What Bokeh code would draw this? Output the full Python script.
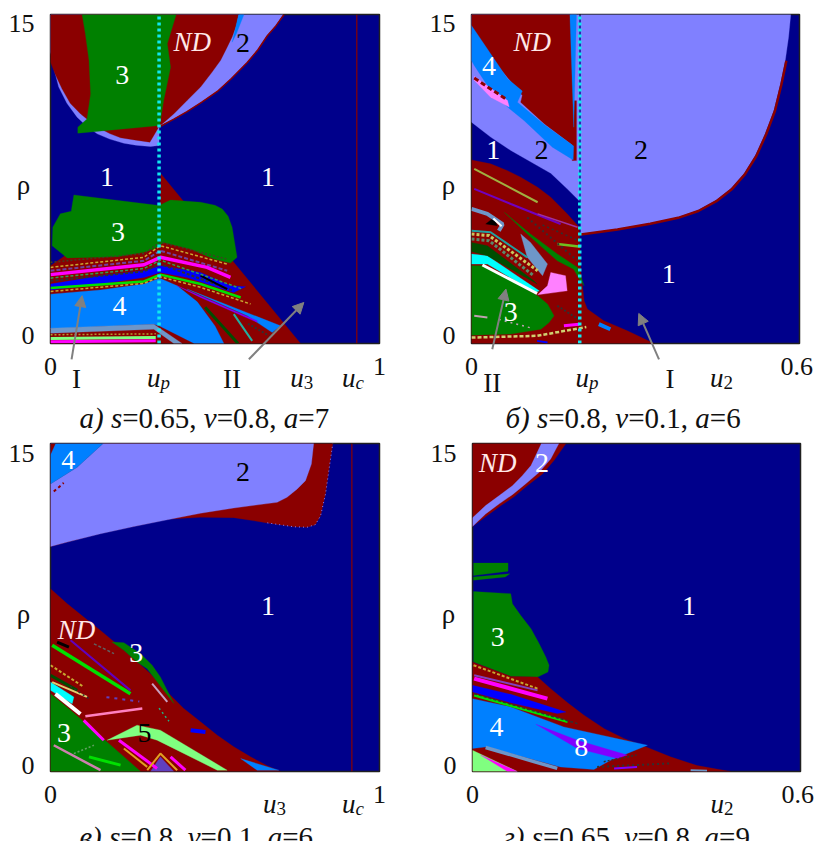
from bokeh.plotting import figure
from bokeh.layouts import row, column
from bokeh.models import Range1d, FixedTicker, Arrow, NormalHead
from bokeh.core.properties import value
from bokeh.embed import file_html
from bokeh.resources import INLINE

NAVY, RED, LILAC, GREEN, BLUE = "#00008b", "#8b0000", "#8080ff", "#008000", "#0080ff"
DGREEN, STEEL, PINK, MAG, LGREEN = "#004d00", "#6e96c8", "#ff80ff", "#ff00ff", "#80ff80"
VIOLET, CYAN, LIME, GOLD, PURE = "#8000ff", "#00ffff", "#00e000", "#c8a830", "#0000ff"
SERIF = "Liberation Serif"

# ---------- panel a: s=0.65, v=0.8, a=7 ----------
a_up, a_uc = 0.330, 0.931
a_region_u = [
    [0, .012, .025, .050, .081, .110, .142, .180, .223, .260, .304, .330, .330, .375, .415, .460, .507, .550, .598, .630, .659, .685, .707, 0],
    [0, .572, .565, .552, .535, .517, .490, .456, .415, .375, .350, .330, .302, .260, .213, .180, .152, .120, .091, .060, .035, .015, 0],
    [.572, .588, .565, .552],
    [.096, .382, .355, .365, .344, .332, .083, .083, .111, .122, .117, .106],
    [0, .066, .330, .336, .760, 0],
    [.071, .330, .365, .456, .500, .522, .540, .552, .567, .547, .496, .426, .344, .314, .284, .203, .051, .005, .007, .030, .063],
    [0, .152, .284, .334, .456, .547, .593, .557, .507, .415, .334, .284, .152, 0],
    [0, .152, .284, .332, .385, .446, .500, .527, .437, .330, .314, 0],
    [.415, .699, .674, .598],
    [.385, .628, .628, .583, .456],
    [0, .314, .400, .375, .314, 0],
]
a_region_rho = [
    [13.29, 12.45, 11.69, 10.95, 10.32, 9.90, 9.56, 9.32, 9.13, 9.04, 8.98, 9.03, 9.89, 10.25, 10.59, 11.02, 11.51, 12.10, 12.83, 13.40, 14.05, 14.50, 15, 15],
    [15, 15, 14.50, 13.97, 13.45, 12.91, 12.35, 11.69, 11.08, 10.47, 10.15, 9.89, 9.18, 9.27, 9.38, 9.57, 9.79, 10.12, 10.47, 10.95, 11.61, 12.25, 12.83],
    [15, 15, 14.12, 13.74],
    [15, 15, 13.67, 12.6, 11.08, 9.94, 9.59, 9.86, 10.24, 11.38, 12.91, 14.12],
    [3.55, 4.23, 4.38, 7.73, 0, 0],
    [6.77, 6.29, 6.54, 6.44, 6.30, 6.13, 5.80, 5.3, 3.93, 3.67, 3.85, 4.31, 4.61, 4.31, 4.16, 3.96, 3.9, 4.46, 5.3, 5.91, 6.03],
    [2.71, 3.09, 3.32, 3.55, 3.24, 2.63, 2.59, 2.33, 2.56, 3.01, 3.24, 3.01, 2.71, 2.44],
    [2.25, 2.44, 2.71, 2.98, 2.63, 1.9, .8, 0, 0, .81, .88, .67],
    [2.48, .81, .5, 1.26],
    [2.63, 1.04, .97, 1.26, 2.1],
    [.7, .88, 0, 0, .65, .47],
]
a_region_color = [LILAC, RED, BLUE, GREEN, RED, GREEN, PURE, BLUE, BLUE, VIOLET, STEEL]
a_line_u = [
    [.330, .375, .415, .460, .507, .550, .598, .630, .659, .685, .710],
    [0, .284, .334, .537], [0, .284, .334, .537], [0, .284, .334, .476, .547],
    [0, .284, .334, .556], [0, .284, .334, .456, .578], [0, .284, .332, .456, .608],
    [.557, .613], [.470, .570], [.456, .537], [0, .320], [0, .320], [0, .320],
    [0, .284, .334, .537], [0, .284, .334, .580], [.600, .665],
]
a_line_rho = [
    [9.87, 10.23, 10.57, 11.0, 11.49, 12.08, 12.81, 13.38, 14.03, 14.48, 15],
    [3.47, 3.93, 4.46, 3.62], [3.32, 3.77, 4.23, 3.32], [3.14, 3.59, 3.93, 3.47, 3.01],
    [2.86, 3.29, 3.62, 2.4], [2.53, 2.83, 3.14, 2.71, 2.1], [2.37, 2.74, 3.04, 2.56, 1.8],
    [1.34, .12], [1.65, 0], [3.09, 2.48], [.23, .27], [.08, .12], [.4, .44],
    [3.70, 4.10, 4.62, 3.85], [2.98, 3.42, 3.80, 2.5], [.9, .35],
]
a_line_color = [RED, GOLD, "#7040a0", MAG, "#303030", LIME, GOLD, "#20b0a0", DGREEN, "#000000", LGREEN, MAG, "#b0a030",
                "#404020", "#30a050", "#303030"]
a_line_width = [1.5, 1.5, 2, 3.5, 2, 2.5, 1.5, 2, 3, 2, 3, 3, 1.5, 1.5, 1.5, 2]
a_line_dash = ["solid", "3 2", "4 2", "solid", "3 2", "solid", "3 2", "solid", "solid", "solid", "solid", "solid", "2 2",
               "2 2", "3 2", "2 2"]
a_text_u = [.585, .218, .172, .661, .205, .210]
a_text_rho = [13.71, 12.22, 7.58, 7.58, 5.10, 1.72]
a_text = ["2", "3", "1", "1", "3", "4"]
a_text_color = ["black", "white", "white", "white", "white", "white"]
a_nd = (.431, 13.74)
a_arrow_u0, a_arrow_rho0, a_arrow_u1, a_arrow_rho1 = [.064, .603], [-.72, -.72], [.096, .770], [2.18, 1.87]

# ---------- panel b: s=0.8, v=0.1, a=6 ----------
b_up = 0.198
b_region_u = [
    [.200, .584, .580, .574, .565, .553, .537, .519, .498, .474, .446, .413, .376, .327, .267, .200],
    [0, 0, .035, .072, .145, .175, .197, .197, 0],
    [0, .181, .189, .187, .187, .133, .090, .093, .035, 0],
    [.184, .192, .192, .184],
    [0, .035, .066, .093, .084, .133, .187, .186, .148, .096, .066, .035, .005, 0],
    [.180, .192, .187],
    [.005, .066, .069, .035, .005],
    [0, .035, .066, .090, .121, .145, .175, .197, .200, .206, .212, .242, .285, .334, 0],
    [.060, .108, .157, .194, .206, .197, .187, .157, .102],
    [.090, .108, .139, .130, .102],
    [.145, .172, .175, .121, .139],
    [0, .023, .072, .121, .139, .151, .142, .127, .072, 0],
    [0, .029, .124, .117, .029, 0],
    [0, .029, .114, .120, .029, 0],
    [.026, .041, .047],
]
b_region_rho = [
    [15, 15, 13.97, 12.91, 11.84, 10.62, 9.56, 8.57, 7.73, 7.05, 6.51, 6.06, 5.75, 5.48, 5.22, 4.99],
    [12.98, 10.09, 9.41, 8.8, 7.76, 7.05, 6.51, 15, 15],
    [15, 15, 9.1, 8.34, 9.0, 10.02, 11.0, 11.31, 13.06, 14.12],
    [11.07, 11.07, 8.34, 8.34],
    [14.5, 13.21, 12.07, 11.51, 11.0, 9.98, 9.0, 8.37, 8.95, 10.17, 10.78, 11.54, 12.68, 12.9],
    [15, 15, 9.86],
    [12.18, 11.08, 10.78, 11.23, 12.0],
    [8.37, 8.19, 7.88, 7.58, 7.12, 6.67, 5.91, 5.3, 3.32, 1.95, 1.57, 1.04, .58, 0, 0],
    [5.98, 4.99, 4.08, 3.47, 2.63, 2.94, 3.39, 3.77, 4.99],
    [4.99, 4.61, 3.62, 3.09, 3.93],
    [3.24, 3.09, 2.4, 2.22, 2.63],
    [3.55, 3.55, 2.86, 2.18, 1.8, 1.26, .96, .65, .43, .38],
    [4.08, 4.0, 2.4, 2.33, 3.62, 3.62],
    [4.61, 4.46, 2.86, 2.71, 4.0, 4.2],
    [5.45, 5.75, 5.37],
]
b_region_color = [LILAC, LILAC, RED, RED, BLUE, BLUE, PINK, RED, GREEN, STEEL, PINK, GREEN, CYAN, DGREEN, "#000000"]
b_line_u = [
    [.200, .267, .327, .378, .415, .448, .476, .500, .521, .539, .555, .567, .576],
    [.005, .066], [.020, .120], [0, .032, .121], [0, .032, .114], [0, .035, .102],
    [0, .029, .057, .050], [.040, .055], [.005, .121], [.005, .072, .163], [.121, .194],
    [.157, .200], [.102, .194], [0, .120, .210], [.169, .197], [.233, .254],
    [.157, .200], [.120, .139], [.005, .029], [.130, .195], [.050, .110],
]
b_line_rho = [
    [4.97, 5.20, 5.46, 5.73, 6.04, 6.49, 7.03, 7.71, 8.55, 9.54, 10.60, 11.82, 12.89],
    [12.1, 11.1], [3.58, 2.28], [4.99, 4.92, 3.32], [4.76, 4.69, 3.09], [5.14, 5.07, 3.93],
    [6.14, 5.91, 5.44, 5.14], [5.7, 5.35], [7.96, 6.44], [7.05, 6.36, 5.45], [5.91, 5.3],
    [4.54, 4.41], [5.75, 3.77], [.27, .35, .75], [.81, .88], [.88, .65],
    [1.72, 1.03], [.12, .05], [1.26, 1.19], [5.4, 4.7], [1.1, .7],
]
b_line_color = [RED, RED, "white", "#c8c860", "#5a8a6a", "#20a0a0", STEEL, "white", "#a0b040", "#7000c0", "#a030a0",
                "#70c020", "#303030", "#d0d070", MAG, BLUE, "#303030", PURE, "#c0a0b0", "#303030", "#c0a0b0"]
b_line_width = [2.5, 3, 3, 3, 3, 2, 4, 2, 2, 2, 1.5, 2.5, 2, 2.5, 3, 4, 2, 2, 2, 1.5, 1.5]
b_line_dash = ["solid", "5 3", "solid", "3 2", "3 2", "solid", "solid", "solid", "solid", "solid", "solid",
               "solid", "2 3", "4 2", "solid", "solid", "2 2", "solid", "solid", "2 3", "2 4"]
b_text_u = [.032, .040, .128, .310, .361, .072]
b_text_rho = [12.65, 8.8, 8.84, 8.84, 3.17, 1.42]
b_text = ["4", "1", "2", "2", "1", "3"]
b_text_color = ["white", "white", "black", "black", "white", "white"]
b_nd = (.111, 13.74)
b_arrow_u0, b_arrow_rho0, b_arrow_u1, b_arrow_rho1 = [.038, .343], [-.26, -.72], [.063, .306], [2.48, 1.37]

# ---------- panel c: s=0.8, v=0.1, a=6 ----------
c_uc = 0.916
c_region_u = [
    [0, .152, .355, .456, .557, .659, .740, .780, .805, .821, .836, .846, .858, 0],
    [0, .051, .152, .253, .355, .456, .557, .689, .719, .750, .775, .793, .800, .160, .081, 0],
    [0, .160, .081, 0],
    [0, .015, 0],
    [0, .051, .101, .152, .203, .253, .304, .355, .405, .456, .507, .557, .608, .659, .699, 0],
    [.187, .223, .274, .309, .334, .375, .344, .294, .263, .223],
    [0, .061, .172, .274, 0],
    [.172, .263, .334, .537, .507, .324, .274],
    [0, .071, .066, 0],
    [.578, .694, .628],
    [.304, .334, .375],
]
c_region_rho = [
    [10.29, 10.89, 11.54, 11.63, 11.61, 11.37, 11.19, 11.17, 11.29, 11.7, 12.7, 13.76, 15, 15],
    [10.29, 10.49, 10.87, 11.2, 11.51, 11.81, 12.05, 12.31, 12.54, 12.92, 13.3, 14.06, 15, 15, 13.91, 13.15],
    [15, 15, 13.91, 13.15],
    [15, 15, 14.5],
    [8.36, 7.67, 7.06, 6.45, 5.81, 5.16, 4.47, 3.64, 2.88, 2.27, 1.66, 1.13, .67, .26, 0, 0],
    [5.92, 5.89, 5.39, 4.86, 4.32, 3.11, 3.71, 4.7, 5.01, 5.54],
    [3.56, 2.8, 1.35, 0, 0],
    [1.43, 2.12, 1.89, .06, .06, 1.43, 1.66],
    [4.09, 3.41, 3.1, 3.71],
    [.59, .06, .06],
    [0, .67, 0],
]
c_region_color = [RED, LILAC, BLUE, RED, RED, GREEN, GREEN, LGREEN, CYAN, BLUE, "#6040c0"]
c_line_u = [
    [.659, .740, .780, .805, .821, .836, .846, .858], [.010, .040],
    [.015, .091], [.005, .243], [.061, .243], [.020, .056], [0, .101], [0, .081], [.005, .111],
    [.101, .162], [.106, .279], [.208, .324], [.223, .294], [.365, .410], [.309, .355],
    [.132, .193], [.426, .471], [.010, .152], [.117, .213], [.071, .132], [.294, .334, .385],
    [.060, .120], [.170, .270], [.330, .360],
]
c_line_rho = [
    [11.37, 11.19, 11.17, 11.29, 11.7, 12.7, 13.76, 15], [12.8, 13.2],
    [3.55, 2.63], [5.77, 3.56], [6.0, 3.71], [5.92, 5.69], [4.86, 3.87], [4.4, 3.71], [4.09, 3.41],
    [2.34, 1.43], [2.53, 2.88], [1.43, .14], [1.05, .21], [.67, .06], [4.02, 3.18],
    [5.84, 5.39], [1.89, 1.81], [1.2, .06], [.67, .29], [.82, 1.2], [.06, .82, .06],
    [3.9, 3.3], [3.4, 3.2], [2.9, 2.3],
]
c_line_color = [LILAC, RED, "white", LIME, "#6000c0", "#000000", GOLD, DGREEN, "#e0d070", MAG, "#ff80c0", MAG, "#e0a020",
                MAG, "#c8a0c0", "#606060", PURE, "#d080b0", LIME, "#60a060", "#e0a020", "#303030", "#6040c0", "#20b080"]
c_line_width = [1, 2, 4, 3.5, 2, 3, 2, 3, 2, 3, 2.5, 3, 2, 3, 2, 1.5, 4, 2.5, 3, 1.5, 2, 1.5, 2, 1.5]
c_line_dash = ["1 3", "3 3", "solid", "solid", "solid", "solid", "3 2", "solid", "solid", "solid", "solid", "solid",
               "solid", "solid", "solid", "3 2", "solid", "solid", "solid", "2 2", "solid", "2 3", "3 5", "2 3"]
c_text_u = [.054, .585, .661, .261, .041, .286]
c_text_rho = [14.26, 13.71, 7.56, 5.42, 1.74, 1.74]
c_text = ["4", "2", "1", "3", "3", "5"]
c_text_color = ["white", "black", "white", "white", "white", "black"]
c_nd = (.079, 6.45)

# ---------- panel d: s=0.65, v=0.8, a=9 ----------
d_region_u = [
    [0, .171, .149, .128, .100, .076, .052, .027, 0],
    [.126, .158, .143, .122, .097, .073, .049, .024, 0, 0, .024, .049, .073, .091, .107],
    [.002, .065, .065, .002],
    [.002, .068, .060, .002],
    [.002, .070, .073, .088, .107, .122, .134, .140, .138, .119, .070, .002],
    [0, .070, .119, .143, .174, .204, .241, .277, .314, .362, .411, .472, 0],
    [0, .070, .171, .155, .070, 0],
    [0, .070, .167, .320, .253, .222, .161, .070, .027, 0],
    [.116, .192, .283, .265, .192],
    [0, .082, 0],
    [.015, .082, .064],
]
d_region_rho = [
    [15, 15, 14.22, 13.61, 13.07, 12.57, 12.16, 11.71, 11.2],
    [15, 15, 14.29, 13.68, 13.15, 12.66, 12.24, 11.78, 11.2, 11.6, 12.16, 12.62, 13.07, 13.53, 13.99],
    [9.53, 9.53, 9.16, 8.96],
    [8.89, 9.04, 8.9, 8.75],
    [8.23, 8.13, 7.67, 7.14, 6.53, 5.84, 5.24, 4.86, 4.55, 4.32, 4.35, 5.01],
    [5.01, 4.35, 4.32, 3.79, 3.14, 2.57, 1.96, 1.51, 1.16, .67, .27, 0, 0],
    [3.94, 3.53, 2.72, 2.65, 3.14, 3.64],
    [3.33, 2.95, 2.04, 1.2, .52, .09, .21, .82, 1.13, 1.05],
    [2.16, 1.43, .75, .59, 1.05],
    [.97, 0, 0],
    [.75, 0, 0],
]
d_region_color = [RED, LILAC, GREEN, GREEN, GREEN, RED, PURE, BLUE, VIOLET, LGREEN, MAG]
d_line_u = [
    [.002, .119], [.003, .137], [.003, .119], [.003, .174], [.003, .192], [.024, .155],
    [.228, .362], [.259, .301], [.399, .429], [.240, .300],
]
d_line_rho = [
    [4.86, 3.79], [4.25, 3.33], [4.4, 3.71], [3.49, 2.27], [3.56, 2.19], [1.1, .14],
    [.21, .37], [.14, .21], [.06, .03], [.45, .75],
]
d_line_color = [GOLD, MAG, "#8040c0", LIME, "#303030", STEEL, "#303030", VIOLET, STEEL, "#303030"]
d_line_width = [2, 4, 2, 2.5, 1.5, 3.5, 2, 2, 2, 1.5]
d_line_dash = ["3 2", "solid", "solid", "solid", "3 2", "solid", "2 3", "solid", "solid", "2 2"]
d_text_u = [.127, .046, .396, .044, .199]
d_text_rho = [14.11, 6.15, 7.56, 2.04, 1.10]
d_text = ["2", "3", "1", "4", "8"]
d_text_color = ["white", "white", "white", "white", "white"]
d_nd = (.046, 14.11)

# tick labels: position -> text
a_xticks = {0: "0", 1: "1"}
b_xticks = {0: "0", 0.595: "0.6"}
a_yticks = {0.36: "0", 14.57: "15"}
c_yticks = {0.27: "0", 14.55: "15"}

a_marks = [("u", "p", .334), ("u", "3", .770), ("u", "c", .927)]
b_marks = [("u", "p", .215), ("u", "2", .461)]
c_marks = [("u", "3", .687), ("u", "c", .927)]
d_marks = [("u", "2", .460)]
a_roman = [("I", .079), ("II", .552)]
b_roman = [("II", .038), ("I", .363)]

a_caption = [("а)", 1), (" ", 0), ("s", 1), ("=0.65, ", 0), ("v", 1), ("=0.8, ", 0), ("a", 1), ("=7", 0)]
b_caption = [("б)", 1), (" ", 0), ("s", 1), ("=0.8, ", 0), ("v", 1), ("=0.1, ", 0), ("a", 1), ("=6", 0)]
c_caption = [("в)", 1), (" ", 0), ("s", 1), ("=0.8, ", 0), ("v", 1), ("=0.1, ", 0), ("a", 1), ("=6", 0)]
d_caption = [("г)", 1), (" ", 0), ("s", 1), ("=0.65, ", 0), ("v", 1), ("=0.8, ", 0), ("a", 1), ("=9", 0)]

EM = {"а": .5, "б": .5, "в": .444, "г": .39, ")": .333, " ": .25, "s": .389, "v": .444, "a": .5,
      "=": .564, ".": .25, ",": .25}
INK = "#101010"
GRAY = "#808080"


def panel(xmax, xticks, yticks, width, height, borders, regions, lines, texts, nd, up=None, uc=None):
    left, right, top, bottom = borders
    p = figure(width=width, height=height, x_range=Range1d(0, xmax), y_range=Range1d(0, 15),
               output_backend="svg", toolbar_location=None, min_border_left=left, min_border_right=right,
               min_border_top=top, min_border_bottom=bottom)
    p.grid.visible = False
    p.background_fill_color = NAVY
    p.outline_line_color = "#202020"
    p.outline_line_width = 1.5
    for ax, ticks, standoff in ((p.xaxis[0], xticks, 8), (p.yaxis[0], yticks, 10)):
        ax.ticker = FixedTicker(ticks=list(ticks))
        ax.major_label_overrides = ticks
        ax.major_tick_line_color = None
        ax.minor_tick_line_color = None
        ax.axis_line_color = None
        ax.major_label_text_font = SERIF
        ax.major_label_text_font_size = "26px"
        ax.major_label_text_color = INK
        ax.major_label_standoff = standoff
    p.patches(regions[0], regions[1], fill_color=regions[2], line_color=regions[2], line_width=0.3)
    for xs, ys, col, w, d in zip(*lines):
        p.line(xs, ys, line_color=col, line_width=w, line_dash=d)
    if uc is not None:
        p.line([uc, uc], [0, 15], line_color=RED, line_width=1.2)
    if up is not None:
        p.line([up, up], [0, 15], line_color="#10e8f0", line_width=3.5, line_dash="3 3")
    p.text(texts[0], texts[1], text=texts[2], text_color=texts[3], text_font=value(SERIF),
           text_font_size="28px", text_align="center", text_baseline="middle")
    p.text([nd[0]], [nd[1]], text=["ND"], text_color="#ffe8e8", text_font=value(SERIF), text_font_style="italic",
           text_font_size="27px", text_align="center", text_baseline="middle")
    return p


pa = panel(1, a_xticks, a_yticks, 410, 424, (50, 31, 14, 81),
           (a_region_u, a_region_rho, a_region_color),
           (a_line_u, a_line_rho, a_line_color, a_line_width, a_line_dash),
           (a_text_u, a_text_rho, a_text, a_text_color), a_nd, up=a_up, uc=a_uc)
pb = panel(.6, b_xticks, a_yticks, 408, 424, (61, 19, 14, 81),
           (b_region_u, b_region_rho, b_region_color),
           (b_line_u, b_line_rho, b_line_color, b_line_width, b_line_dash),
           (b_text_u, b_text_rho, b_text, b_text_color), b_nd, up=b_up)
pc = panel(1, a_xticks, c_yticks, 410, 417, (50, 31, 19, 70),
           (c_region_u, c_region_rho, c_region_color),
           (c_line_u, c_line_rho, c_line_color, c_line_width, c_line_dash),
           (c_text_u, c_text_rho, c_text, c_text_color), c_nd, uc=c_uc)
pd = panel(.6, b_xticks, c_yticks, 408, 417, (62, 18, 19, 70),
           (d_region_u, d_region_rho, d_region_color),
           (d_line_u, d_line_rho, d_line_color, d_line_width, d_line_dash),
           (d_text_u, d_text_rho, d_text, d_text_color), d_nd)

# Transparent page-wide layer: a figure's own annotations are clipped to its frame, so the
# texts and arrow tails that lie outside the frames go here, in page pixels.
over = figure(width=818, height=841, x_range=Range1d(0, 818), y_range=Range1d(841, 0),
              x_axis_location=None, y_axis_location=None, output_backend="svg", toolbar_location=None,
              min_border=0, outline_line_color=None, background_fill_color=None, border_fill_color=None,
              styles={"position": "absolute", "left": "0px", "top": "0px"})
over.grid.visible = False


def note(x, y, t, size, italic=False, align="center", color=INK):
    over.text([x], [y], text=[t], text_font=value(SERIF), text_font_size=f"{size}px",
              text_font_style="italic" if italic else "normal", text_align=align, text_baseline="alphabetic",
              text_color=color)


def caption(pieces, x, y, size=29):
    for t, ital in pieces:
        if t.strip():
            note(x, y, t, size, italic=bool(ital), align="left")
        x += sum(EM.get(ch, .5) for ch in t) * size


def marks(items, left, xmax, base, width=329):
    for main, sub, u in items:
        x = left + u / xmax * width
        note(x, base, main, 27, italic=True, align="right")
        note(x, base + 5, sub, 19, italic=sub.isalpha(), align="left")


def romans(items, left, xmax, bases, width=329):
    for (t, u), base in zip(items, bases):
        note(left + u / xmax * width, base, t, 27)


def arrows(u0, r0, u1, r1, left, top, xmax, width=329, height=329):
    for a, b, c, d in zip(u0, r0, u1, r1):
        over.add_layout(Arrow(end=NormalHead(size=11, fill_color=GRAY, line_color=GRAY),
                              x_start=left + a / xmax * width, y_start=top + (15 - b) / 15 * height,
                              x_end=left + c / xmax * width, y_end=top + (15 - d) / 15 * height,
                              line_color=GRAY, line_width=2))


arrows(a_arrow_u0, a_arrow_rho0, a_arrow_u1, a_arrow_rho1, 50, 14, 1)
arrows(b_arrow_u0, b_arrow_rho0, b_arrow_u1, b_arrow_rho1, 471, 14, .6, width=328)
marks(a_marks, 50, 1, 377)
marks(b_marks, 471, .6, 377, width=328)
marks(c_marks, 50, 1, 803)
marks(d_marks, 472, .6, 803, width=328)
romans(a_roman, 50, 1, [378, 378])
romans(b_roman, 471, .6, [382, 378], width=328)
for x, y in [(23, 184), (448, 184), (23, 613), (448, 613)]:
    note(x, y, "ρ", 27)
caption(a_caption, 79, 417)
caption(b_caption, 505, 417)
caption(c_caption, 79, 836)
caption(d_caption, 503, 836)

page = column(row(pa, pb), row(pc, pd), over)
open("out.html", "w").write(file_html(page, INLINE))
